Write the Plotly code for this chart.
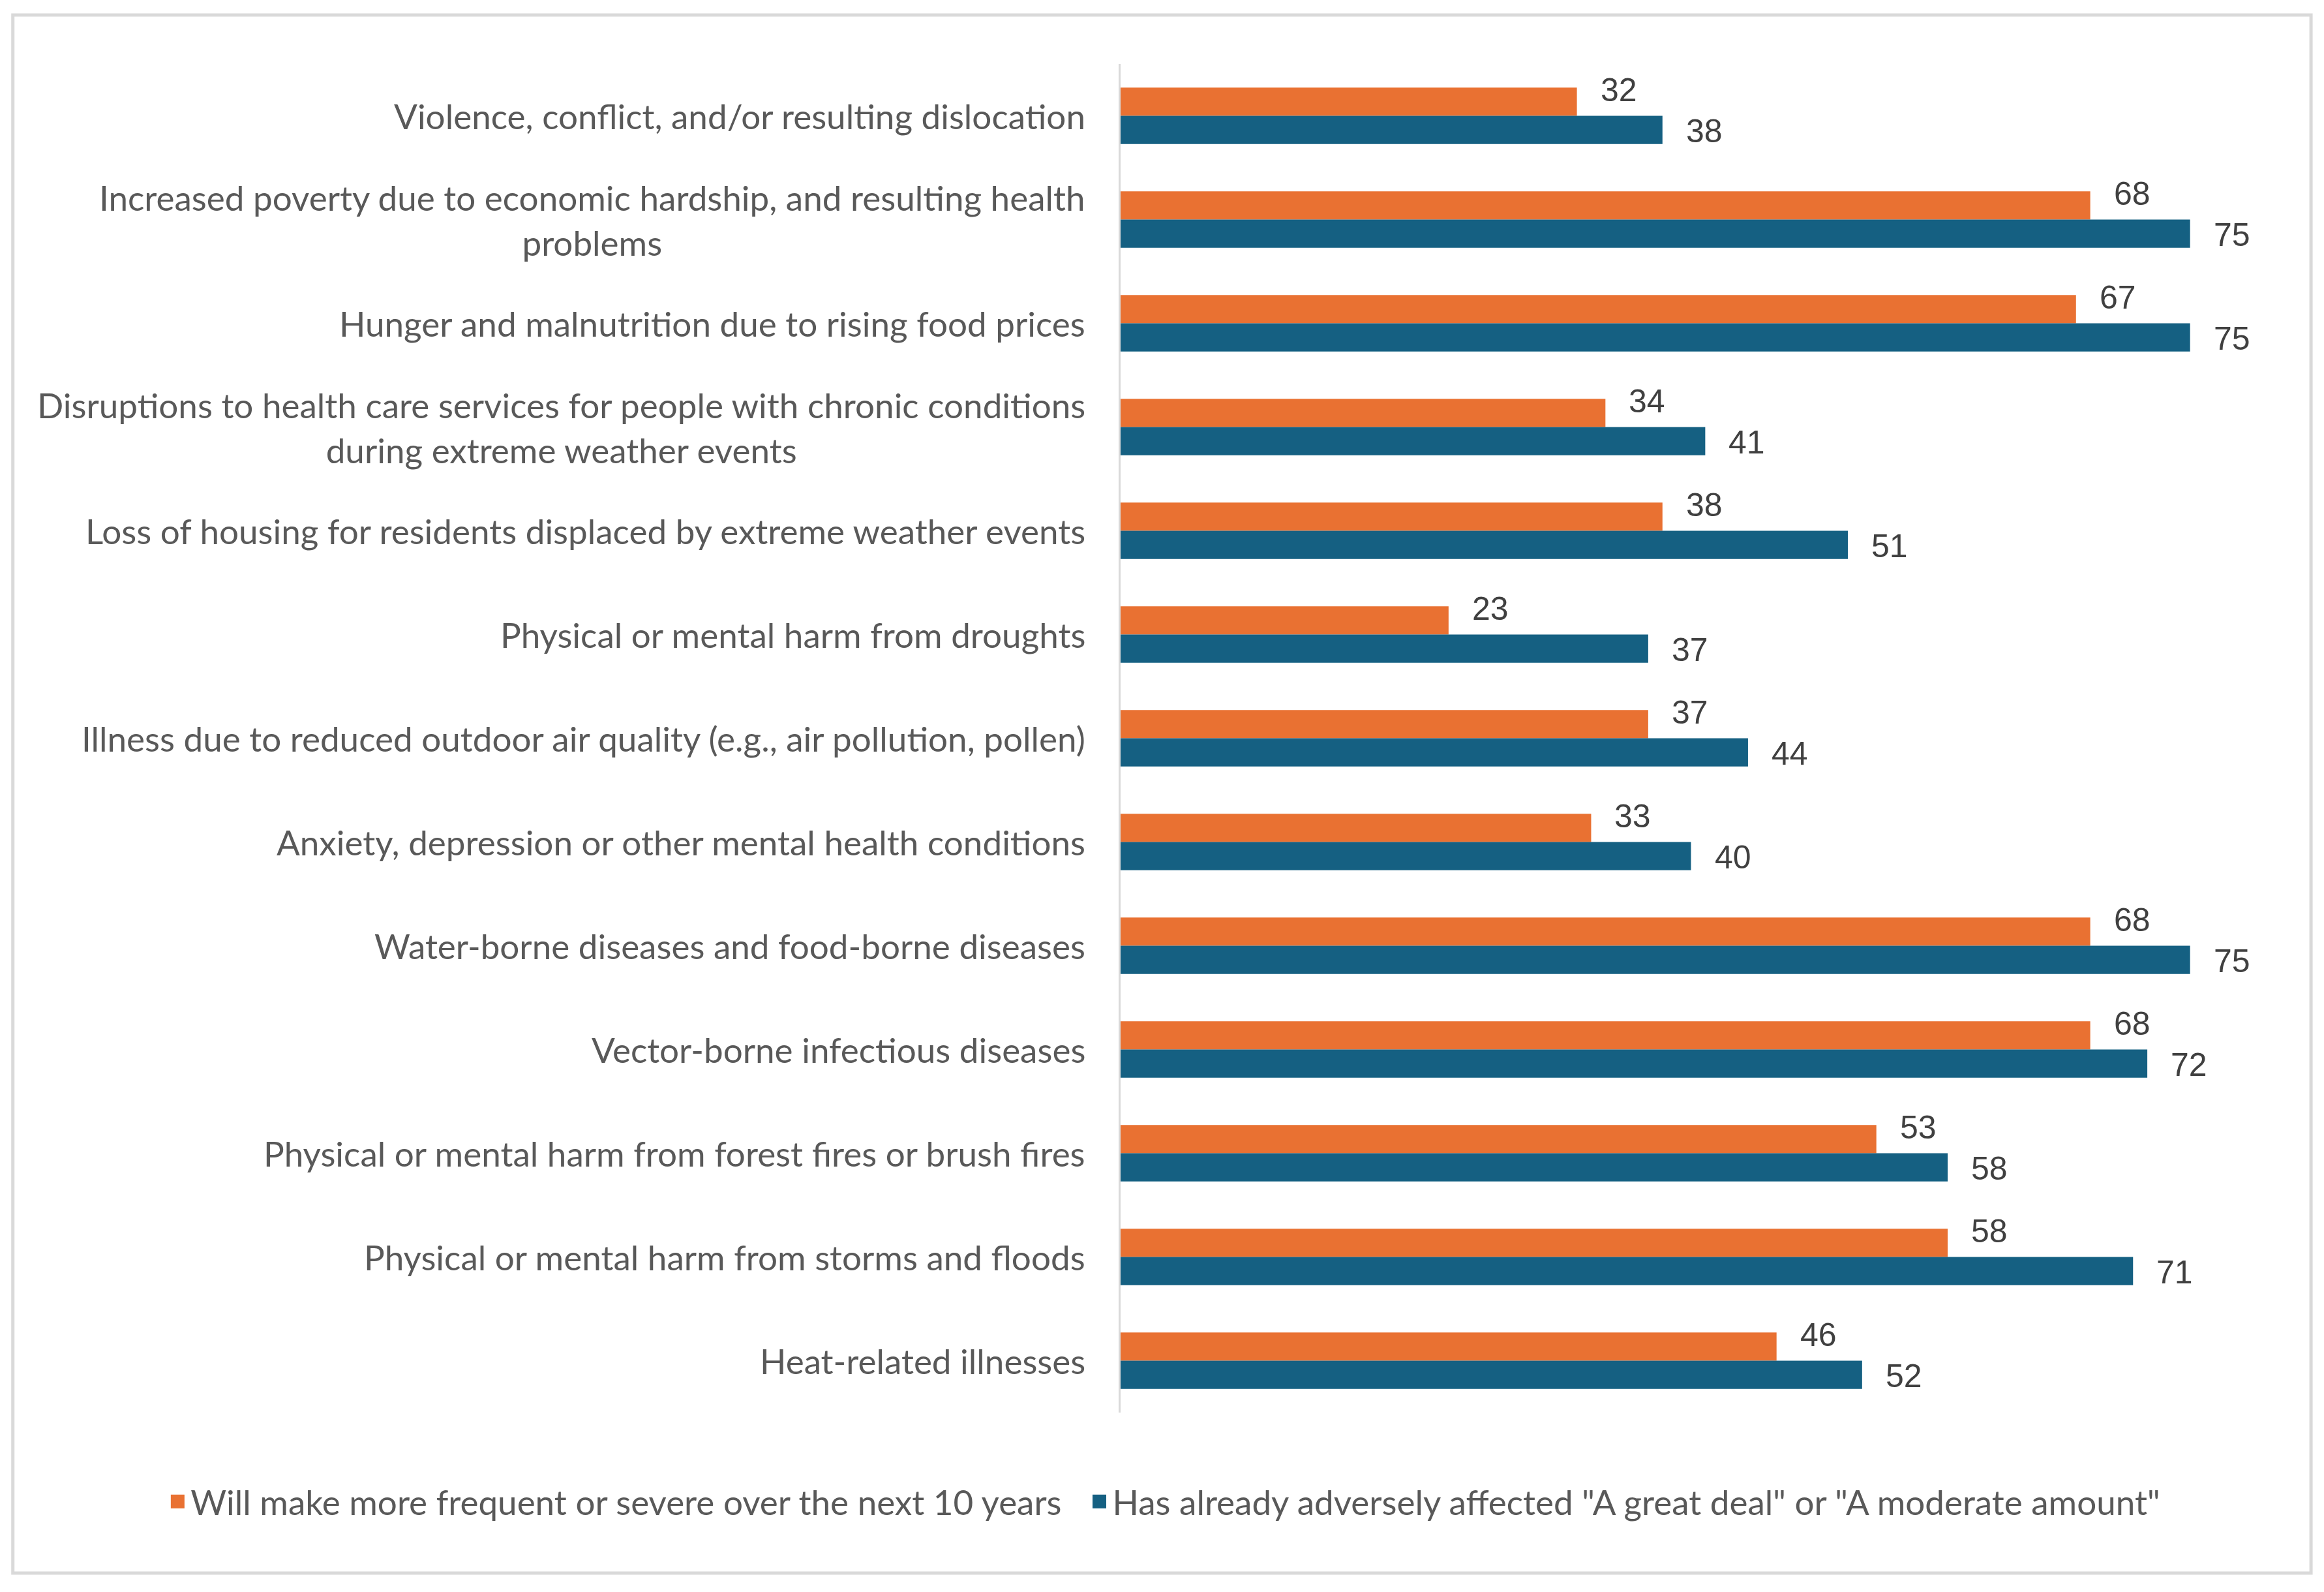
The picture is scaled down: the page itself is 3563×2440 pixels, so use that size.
import plotly.graph_objects as go

# ---------------- datos ----------------
categorias = [
    "Violence, conflict, and/or resulting dislocation",
    "Increased poverty due to economic hardship, and resulting health<br>problems",
    "Hunger and malnutrition due to rising food prices",
    "Disruptions to health care services for people with chronic conditions<br>during extreme weather events",
    "Loss of housing for residents displaced by extreme weather events",
    "Physical or mental harm from droughts",
    "Illness due to reduced outdoor air quality (e.g., air pollution, pollen)",
    "Anxiety, depression or other mental health conditions",
    "Water-borne diseases and food-borne diseases",
    "Vector-borne infectious diseases",
    "Physical or mental harm from forest fires or brush fires",
    "Physical or mental harm from storms and floods",
    "Heat-related illnesses",
]
futuro = [32, 68, 67, 34, 38, 23, 37, 33, 68, 68, 53, 58, 46]
ya_afectado = [38, 75, 75, 41, 51, 37, 44, 40, 75, 72, 58, 71, 52]

nombre_futuro = "Will make more frequent or severe over the next 10 years"
nombre_afectado = 'Has already adversely affected "A great deal" or "A moderate amount"'

color_naranja = "#E97132"
color_azul = "#156082"
gris_texto = "#595959"
gris_valores = "#404040"
gris_linea = "#D9D9D9"

# ---------------- figura ----------------
fig = go.Figure()

fig.add_trace(go.Bar(
    y=categorias, x=futuro, name=nombre_futuro, orientation="h",
    marker=dict(color=color_naranja, line=dict(width=0)), hoverinfo="x",
    showlegend=False))
fig.add_trace(go.Bar(
    y=categorias, x=ya_afectado, name=nombre_afectado, orientation="h",
    marker=dict(color=color_azul, line=dict(width=0)), hoverinfo="x",
    showlegend=False))

# entradas de leyenda con cuadrados más grandes (el icono de barra es muy pequeño)
for nombre, color, ley in [(nombre_futuro, color_naranja, "legend"),
                           (nombre_afectado, color_azul, "legend2")]:
    fig.add_trace(go.Scatter(
        x=[None], y=[None], mode="markers", name=nombre, legend=ley,
        marker=dict(symbol="square", size=16, color=color,
                    line=dict(color=color, width=5))))

anotaciones = []
# etiquetas de categoría (centradas como en Excel)
for cat in categorias:
    anotaciones.append(dict(
        x=0, xref="paper", y=cat, yref="y", text=cat, showarrow=False,
        xanchor="right", xshift=-52, align="center",
        font=dict(family="Lato", size=53, color=gris_texto)))

# etiquetas de valores
for cat, v in zip(categorias, futuro):
    anotaciones.append(dict(
        x=v, y=cat, text=str(v), showarrow=False, xanchor="left",
        xshift=34, yshift=40,
        font=dict(family="Liberation Sans", size=50, color=gris_valores)))
for cat, v in zip(categorias, ya_afectado):
    anotaciones.append(dict(
        x=v, y=cat, text=str(v), showarrow=False, xanchor="left",
        xshift=34, yshift=-23,
        font=dict(family="Liberation Sans", size=50, color=gris_valores)))

estilo_leyenda = dict(orientation="h", xanchor="left", y=-0.066, yanchor="middle",
                      font=dict(family="Lato", size=53, color=gris_texto),
                      itemwidth=30, bgcolor="rgba(0,0,0,0)")

fig.update_layout(
    width=3563, height=2440,
    template="simple_white",
    paper_bgcolor="white", plot_bgcolor="white",
    margin=dict(l=1710, r=104, t=90, b=283, autoexpand=False),
    barmode="group", bargap=0.457, bargroupgap=0,
    showlegend=True,
    legend=dict(x=-0.838, **estilo_leyenda),
    legend2=dict(x=-0.030, **estilo_leyenda),
    annotations=anotaciones,
    shapes=[dict(type="rect", xref="paper", yref="paper",
                 x0=-0.971, x1=1.0435, y0=-0.119, y1=1.0363,
                 fillcolor="rgba(0,0,0,0)", opacity=1,
                 line=dict(color=gris_linea, width=5), layer="below")],
)

fig.update_xaxes(range=[0, 80], visible=False, showgrid=False, zeroline=False)
fig.update_yaxes(type="category", categoryarray=categorias, autorange="reversed",
                 showticklabels=False, ticks="", showline=True,
                 linecolor=gris_linea, linewidth=3, showgrid=False, zeroline=False)

fig.write_html("out.html")
